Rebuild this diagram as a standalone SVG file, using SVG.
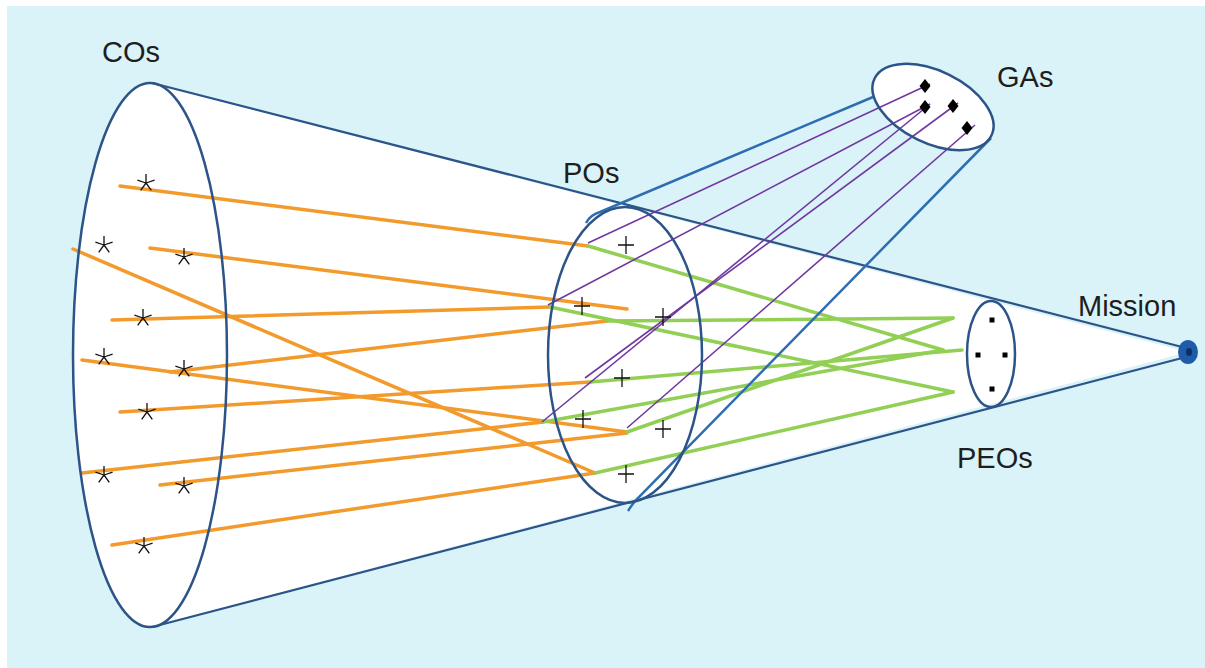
<svg xmlns="http://www.w3.org/2000/svg" width="1205" height="668" viewBox="0 0 1205 668">
<style>
.lbl{font-family:"Liberation Sans",Arial,sans-serif;font-size:29px;fill:#1e1e1e}
.outl{fill:none;stroke:#2c5488;stroke-width:2.5}
.cone{fill:none;stroke:#2c5488;stroke-width:2.2}
.tube{fill:none;stroke:#2f6db3;stroke-width:2.5}
.or{stroke:#f39a2d;stroke-width:3.5;stroke-linecap:round}
.gr{stroke:#92cf55;stroke-width:3.5;stroke-linecap:round}
.pu{stroke:#7038a0;stroke-width:1.6}
.mk{fill:none;stroke:#111;stroke-width:1.3}
</style>
<defs>
<path id="star" d="M0,0 V-9 M0,0 L8.6,-2.8 M0,0 L5.3,7.3 M0,0 L-5.3,7.3 M0,0 L-8.6,-2.8" class="mk"/>
<path id="cross" d="M-8,0 H8 M0,-9 V9" class="mk"/>
<polygon id="dia" points="0,-7 5.5,0 0,7 -5.5,0" fill="#000"/>
</defs>
<rect x="0" y="0" width="1205" height="668" fill="#ffffff"/>
<rect x="7" y="6" width="1198" height="662" fill="#d9f3f8"/>
<g id="fills" fill="#ffffff">
<polygon points="150,83 1188,352 150,627"/>
<ellipse cx="150" cy="355" rx="77" ry="272"/>
<ellipse cx="933" cy="107" rx="65" ry="36" transform="rotate(26 933 107)"/>
</g>
<g id="connectors">
<line class="cone" x1="152" y1="83" x2="1186" y2="348"/>
<line class="cone" x1="152" y1="627" x2="1186" y2="357"/>
<g id="orange">
<line class="or" x1="120" y1="186" x2="588" y2="246"/>
<line class="or" x1="150" y1="248" x2="627" y2="309"/>
<line class="or" x1="73" y1="249" x2="595" y2="473"/>
<line class="or" x1="112" y1="320" x2="550" y2="307"/>
<line class="or" x1="82" y1="360" x2="627" y2="432"/>
<line class="or" x1="170" y1="372" x2="607" y2="321"/>
<line class="or" x1="120" y1="412" x2="590" y2="382"/>
<line class="or" x1="82" y1="473" x2="543" y2="422"/>
<line class="or" x1="160" y1="485" x2="627" y2="433"/>
<line class="or" x1="112" y1="545" x2="595" y2="473"/>
</g>
<g id="green">
<line class="gr" x1="588" y1="246" x2="943" y2="350"/>
<line class="gr" x1="550" y1="307" x2="953" y2="392"/>
<line class="gr" x1="607" y1="321" x2="953" y2="318"/>
<line class="gr" x1="590" y1="382" x2="962" y2="350"/>
<line class="gr" x1="543" y1="422" x2="943" y2="350"/>
<line class="gr" x1="627" y1="432" x2="953" y2="318"/>
<line class="gr" x1="595" y1="473" x2="953" y2="392"/>
</g>
<g id="purple">
<line class="pu" x1="588" y1="243" x2="930" y2="84"/>
<line class="pu" x1="548" y1="305" x2="930" y2="104"/>
<line class="pu" x1="585" y1="378" x2="958" y2="103"/>
<line class="pu" x1="542" y1="422" x2="930" y2="104"/>
<line class="pu" x1="627" y1="428" x2="975" y2="125"/>
</g>
<path class="tube" d="M586,223 Q590,215 600,212 L873,97"/>
<path class="tube" d="M991,138 L636,500 Q631,506 628,511"/>
</g>
<g id="COs">
<ellipse class="outl" cx="150" cy="355" rx="77" ry="272"/>
<use href="#star" x="146" y="183"/>
<use href="#star" x="104" y="245"/>
<use href="#star" x="184" y="257"/>
<use href="#star" x="143" y="318"/>
<use href="#star" x="104" y="357"/>
<use href="#star" x="184" y="369"/>
<use href="#star" x="147" y="412"/>
<use href="#star" x="104" y="475"/>
<use href="#star" x="184" y="486"/>
<use href="#star" x="144" y="546"/>
<text class="lbl" x="102" y="62">COs</text>
</g>
<g id="POs">
<ellipse class="outl" cx="625" cy="355" rx="77" ry="148"/>
<use href="#cross" x="626" y="245"/>
<use href="#cross" x="582" y="306"/>
<use href="#cross" x="663" y="317"/>
<use href="#cross" x="622" y="378"/>
<use href="#cross" x="583" y="419"/>
<use href="#cross" x="663" y="429"/>
<use href="#cross" x="626" y="474"/>
<text class="lbl" x="563" y="183">POs</text>
</g>
<g id="GAs">
<ellipse class="outl" cx="933" cy="107" rx="65" ry="36" transform="rotate(26 933 107)"/>
<use href="#dia" x="925" y="86"/>
<use href="#dia" x="925" y="107"/>
<use href="#dia" x="953" y="106"/>
<use href="#dia" x="967" y="128"/>
<text class="lbl" x="997" y="87">GAs</text>
</g>
<g id="PEOs">
<ellipse class="outl" cx="991" cy="354" rx="24" ry="53"/>
<rect x="989.5" y="317.5" width="5" height="5" fill="#000"/>
<rect x="975.5" y="352.5" width="5" height="5" fill="#000"/>
<rect x="1002.5" y="352.5" width="5" height="5" fill="#000"/>
<rect x="989.5" y="386.5" width="5" height="5" fill="#000"/>
<text class="lbl" x="957" y="468">PEOs</text>
</g>
<g id="Mission">
<ellipse cx="1188" cy="352" rx="10" ry="12" fill="#1f5ba8"/>
<ellipse cx="1189" cy="352" rx="3" ry="4" fill="#0d2f66"/>
<text class="lbl" x="1078" y="316">Mission</text>
</g>
</svg>
